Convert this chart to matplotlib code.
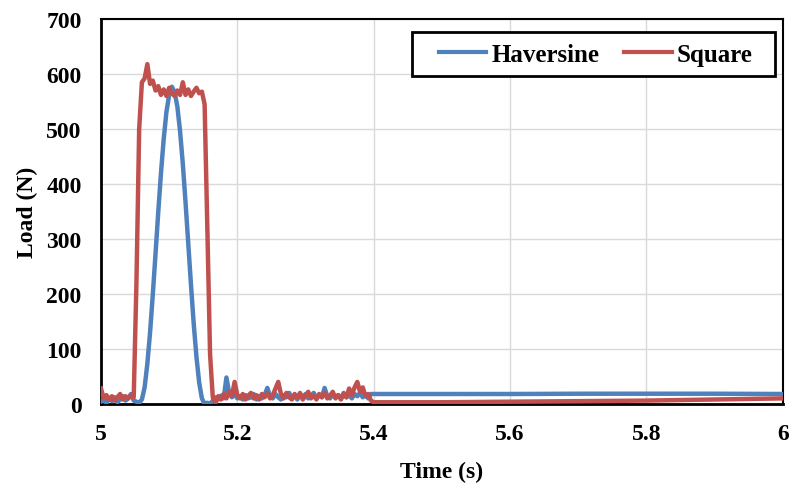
import numpy as np
import matplotlib
matplotlib.use("Agg")
import matplotlib.pyplot as plt
from matplotlib.patches import Rectangle

# sample times for the noisy section (5.000 .. 5.396 s, 4 ms step)
t_main = [round(5.0 + 0.004 * i, 3) for i in range(100)]
t_tail = [5.40, 5.50, 5.60, 5.70, 5.80, 5.90, 6.00]

haversine_main = [4, 8, 2, 10, 5, 12, 3, 8, 14, 6, 10, 18, 6, 4,
                  2, 8, 30, 73, 130, 199, 273, 349, 420, 482, 531, 562, 577, 567,
                  541, 496, 437, 367, 292, 217, 146, 86, 39, 10, 0, 2, 0, 6,
                  12, 8, 15, 10, 48, 20, 12, 18, 10, 14, 8, 16, 10, 12,
                  18, 8, 14, 10, 16, 29, 14, 10, 18, 12, 8, 16, 12, 20,
                  10, 14, 8, 16, 12, 18, 10, 14, 20, 10, 16, 12, 29, 14,
                  10, 18, 12, 16, 10, 20, 12, 16, 10, 18, 14, 20, 12, 16,
                  10, 18]
haversine_tail = [18, 18, 18, 18.5, 18.5, 18.5, 18]

square_main = [28, 10, 16, 8, 14, 6, 12, 18, 8, 14, 10, 16, 12, 220,
               500, 585, 592, 618, 582, 588, 570, 578, 562, 572, 560, 575, 565, 560,
               570, 562, 585, 562, 572, 560, 568, 575, 565, 568, 545, 320, 90, 12,
               2, 14, 8, 18, 10, 22, 14, 40, 16, 10, 18, 8, 15, 20,
               10, 16, 8, 18, 12, 20, 10, 16, 28, 40, 18, 10, 20, 12,
               8, 18, 12, 20, 8, 15, 22, 10, 16, 8, 18, 12, 20, 10,
               15, 22, 10, 16, 8, 18, 12, 28, 16, 30, 40, 22, 30, 14,
               18, 6]
square_tail = [3, 3, 4, 5, 6, 8, 10]

x_ticks = [5.0, 5.2, 5.4, 5.6, 5.8, 6.0]
x_labels = ["5", "5.2", "5.4", "5.6", "5.8", "6"]
y_ticks = [0, 100, 200, 300, 400, 500, 600, 700]

blue = "#4F81BD"
red = "#C0504D"
font = "Liberation Serif"

fig = plt.figure(figsize=(7.89, 4.89), dpi=100)
ax = fig.add_axes([0.128, 0.172, 0.864, 0.787])

ax.plot(t_main + t_tail, haversine_main + haversine_tail, color=blue, lw=3.2,
        label="Haversine", zorder=3)
ax.plot(t_main + t_tail, square_main + square_tail, color=red, lw=3.2,
        label="Square", zorder=4)

ax.set_xlim(5.0, 6.0)
ax.set_ylim(0, 700)
ax.set_xticks(x_ticks)
ax.set_xticklabels(x_labels)
ax.set_yticks(y_ticks)
ax.grid(True, color="#d9d9d9", lw=1.0, zorder=0)
ax.set_axisbelow(True)
ax.tick_params(axis="x", length=0, pad=14, labelsize=17)
ax.tick_params(axis="y", length=0, pad=14, labelsize=17)
for lab in ax.get_xticklabels() + ax.get_yticklabels():
    lab.set_fontfamily(font)
    lab.set_fontweight("bold")
for s in ax.spines.values():
    s.set_color("black")
    s.set_linewidth(2.0)
ax.spines["top"].set_linewidth(1.5)
ax.spines["right"].set_linewidth(1.5)

ax.set_xlabel("Time (s)", fontfamily=font, fontweight="bold", fontsize=17, labelpad=12)
ax.set_ylabel("Load (N)", fontfamily=font, fontweight="bold", fontsize=17, labelpad=6)

# legend box
bx0, bx1, by0, by1 = 0.456, 0.988, 0.852, 0.966
ax.add_patch(Rectangle((bx0, by0), bx1 - bx0, by1 - by0, transform=ax.transAxes,
                       facecolor="white", edgecolor="black", lw=2.0, zorder=6))
leg = ax.legend(loc="center", ncol=2,
                bbox_to_anchor=((bx0 + bx1) / 2 + 0.004, (by0 + by1) / 2),
                prop={"family": font, "weight": "bold", "size": 18},
                frameon=False, handlelength=1.9, columnspacing=1.0,
                handletextpad=0.2, borderpad=0.0)
leg.set_zorder(7)
for h in leg.get_lines():
    h.set_linewidth(3.0)

fig.savefig("out.png", dpi=100)
